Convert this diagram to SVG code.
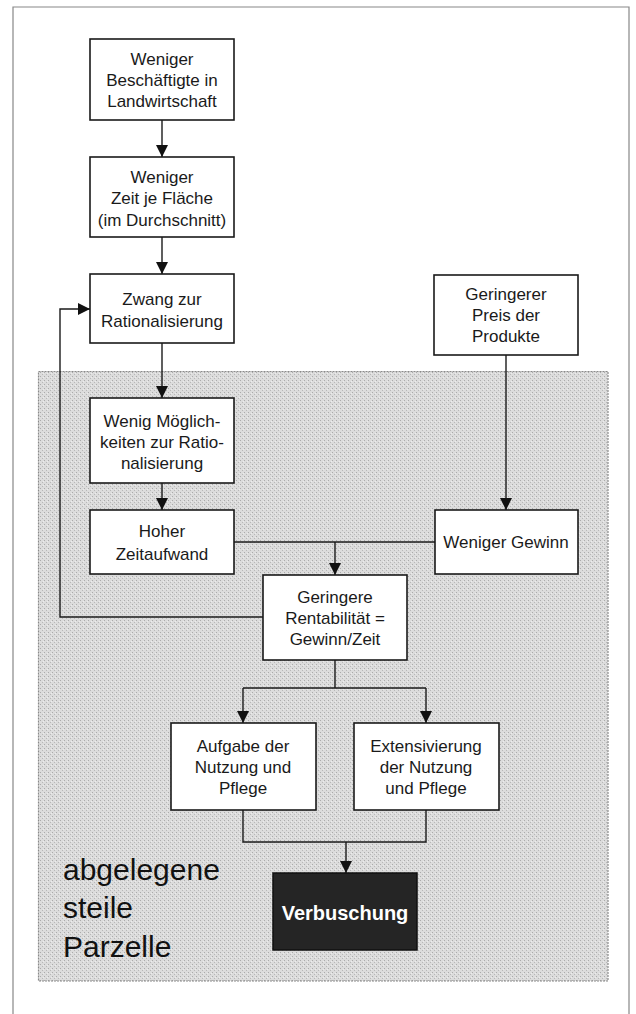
<svg xmlns="http://www.w3.org/2000/svg" width="636" height="1014" viewBox="0 0 636 1014">
<defs>
<marker id="ah" markerUnits="userSpaceOnUse" markerWidth="13" markerHeight="12" refX="12" refY="6" orient="auto">
<path d="M0,0 L12,6 L0,12 Z" fill="#111"/>
</marker>
<pattern id="stip" width="4" height="4" patternUnits="userSpaceOnUse">
<rect width="4" height="4" fill="#dcdcdc"/>
<rect x="0" y="0" width="1" height="1" fill="#ababab"/>
<rect x="2" y="2" width="1" height="1" fill="#b8b8b8"/>
<rect x="3" y="1" width="1" height="1" fill="#ececec"/>
</pattern>
</defs>
<style>
.box{fill:#fff;stroke:#1a1a1a;stroke-width:1.6}
.t{font-family:"Liberation Sans",Arial,sans-serif;font-size:17px;fill:#1a1a1a;text-anchor:middle}
.c{fill:none;stroke:#1a1a1a;stroke-width:1.4}
.side{font-family:"Liberation Sans",Arial,sans-serif;font-size:30px;fill:#111}
</style>
<rect width="636" height="1014" fill="#fff"/>
<path d="M13,1014 V7 H629 V1014" fill="none" stroke="#888" stroke-width="1.2"/>
<g id="region">
<rect x="38.5" y="371.5" width="569.5" height="609.5" fill="url(#stip)" stroke="#8a8a8a" stroke-width="1.2" stroke-dasharray="2 1"/>
<text class="side" x="63" y="880">abgelegene</text>
<text class="side" x="63" y="918">steile</text>
<text class="side" x="63" y="957">Parzelle</text>
</g>
<g id="connectors">
<path class="c" d="M162,120 V157" marker-end="url(#ah)"/>
<path class="c" d="M162,237 V274" marker-end="url(#ah)"/>
<path class="c" d="M162,343 V398" marker-end="url(#ah)"/>
<path class="c" d="M162,483 V510" marker-end="url(#ah)"/>
<path class="c" d="M506,355 V510" marker-end="url(#ah)"/>
<path class="c" d="M234,542 H435"/>
<path class="c" d="M335,542 V575" marker-end="url(#ah)"/>
<path class="c" d="M263,617 H60 V309 H90" marker-end="url(#ah)"/>
<path class="c" d="M335,660 V688 M243,688 H426"/>
<path class="c" d="M243,688 V723" marker-end="url(#ah)"/>
<path class="c" d="M426,688 V723" marker-end="url(#ah)"/>
<path class="c" d="M243,810 V842 H426 V810"/>
<path class="c" d="M346,842 V873" marker-end="url(#ah)"/>
</g>
<g id="n1"><rect class="box" x="90" y="39" width="144" height="81"/>
<text class="t" x="162" y="65">Weniger</text><text class="t" x="162" y="86">Beschäftigte in</text><text class="t" x="162" y="107">Landwirtschaft</text></g>
<g id="n2"><rect class="box" x="90" y="157" width="144" height="80"/>
<text class="t" x="162" y="183">Weniger</text><text class="t" x="162" y="204">Zeit je Fläche</text><text class="t" x="162" y="226">(im Durchschnitt)</text></g>
<g id="n3"><rect class="box" x="90" y="274" width="144" height="69"/>
<text class="t" x="162" y="305">Zwang zur</text><text class="t" x="162" y="327">Rationalisierung</text></g>
<g id="n4"><rect class="box" x="434" y="275" width="144" height="80"/>
<text class="t" x="506" y="300">Geringerer</text><text class="t" x="506" y="321">Preis der</text><text class="t" x="506" y="342">Produkte</text></g>
<g id="n5"><rect class="box" x="90" y="398" width="144" height="85"/>
<text class="t" x="162" y="427">Wenig Möglich-</text><text class="t" x="162" y="448">keiten zur Ratio-</text><text class="t" x="162" y="469">nalisierung</text></g>
<g id="n6"><rect class="box" x="90" y="510" width="144" height="64"/>
<text class="t" x="162" y="537">Hoher</text><text class="t" x="162" y="560">Zeitaufwand</text></g>
<g id="n7"><rect class="box" x="435" y="510" width="143" height="64"/>
<text class="t" x="506" y="548">Weniger Gewinn</text></g>
<g id="n8"><rect class="box" x="263" y="575" width="144" height="85"/>
<text class="t" x="335" y="603">Geringere</text><text class="t" x="335" y="624">Rentabilität =</text><text class="t" x="335" y="645">Gewinn/Zeit</text></g>
<g id="n9"><rect class="box" x="171" y="723" width="145" height="87"/>
<text class="t" x="243" y="752">Aufgabe der</text><text class="t" x="243" y="773">Nutzung und</text><text class="t" x="243" y="794">Pflege</text></g>
<g id="n10"><rect class="box" x="354" y="723" width="145" height="87"/>
<text class="t" x="426" y="752">Extensivierung</text><text class="t" x="426" y="773">der Nutzung</text><text class="t" x="426" y="794">und Pflege</text></g>
<g id="n11"><rect x="273" y="873" width="144" height="77" fill="#252525" stroke="#111" stroke-width="1.5"/>
<text x="345" y="920" font-family="Liberation Sans,Arial,sans-serif" font-size="20" font-weight="bold" fill="#fff" text-anchor="middle">Verbuschung</text></g>
</svg>
